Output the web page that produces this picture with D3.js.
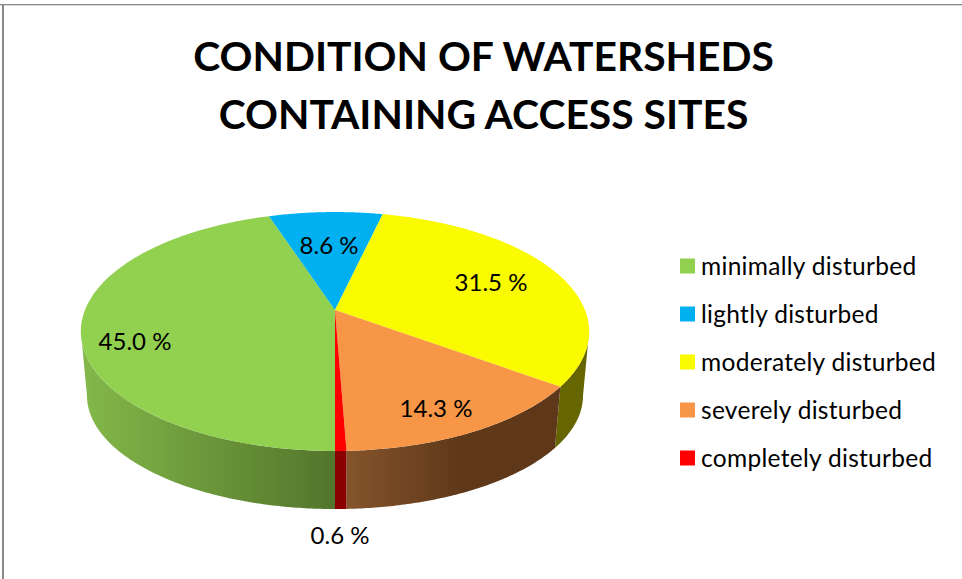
<!DOCTYPE html>
<html><head><meta charset="utf-8">
<script src="https://cdn.jsdelivr.net/npm/d3@7/dist/d3.min.js"></script>
<style>html,body{margin:0;padding:0;background:#fff}svg{display:block}text{font-family:Lato,"Open Sans",sans-serif;fill:#000}</style>
</head><body><div id="chart"></div>
<script>
const categories = ["minimally disturbed","lightly disturbed","moderately disturbed","severely disturbed","completely disturbed"];
const values = [45.0,8.6,31.5,14.3,0.6];
const colors = ["#92D050","#00B0F0","#FAFA00","#F79646","#FF0000"];
const wallLeft = ["#84B84A","#00709A","#666600","#85542B","#8B0000"];
const wallRight = ["#52752B","#00709A","#666600","#5E3819","#8B0000"];
const titleLines = ["CONDITION OF WATERSHEDS","CONTAINING ACCESS SITES"];

const W=962,H=579;
const svg=d3.select("#chart").append("svg").attr("width",W).attr("height",H);
svg.append("rect").attr("x",0).attr("y",4).attr("width",W).attr("height",1.3).attr("fill","#888");
svg.append("rect").attr("x",2).attr("y",4).attr("width",2).attr("height",H-4).attr("fill","#888");

svg.selectAll("text.title").data(titleLines).join("text").attr("class","title")
  .attr("x",483.5).attr("y",(d,i)=>71+i*58).attr("text-anchor","middle")
  .attr("font-size",40.8).attr("font-weight",700).text(d=>d);

// perspective projection of the disc
const k=0.18, cx=335, cy=310;
const topRim={R:250,S:115.6,dy:0}, botRim={R:244,S:110,dy:64.9};
const proj=(a,p)=>{const u=Math.sin(a),v=-Math.cos(a),d=1-k*v;return [cx+p.R*u/d, cy+p.dy+p.S*v/d];};
const visA=Math.PI-Math.acos(k), visB=Math.PI+Math.acos(k);
const pie=d3.pie().sort(null).startAngle(Math.PI).endAngle(3*Math.PI);
const arcs=pie(values);
const line=d3.line();
const sweep=(a,b)=>{const n=Math.max(2,Math.ceil((b-a)/0.01));return d3.range(n+1).map(i=>a+(b-a)*i/n);};
const defs=svg.append("defs");

const walls=[];
arcs.forEach((s,i)=>{
  [[s.startAngle,s.endAngle],[s.startAngle-2*Math.PI,s.endAngle-2*Math.PI]].forEach(([a0,b0])=>{
    const a=Math.max(a0,visA),b=Math.min(b0,visB);
    if(b>a) walls.push({i,a,b});
  });
});
walls.forEach((w,j)=>{
  const ts=sweep(w.a,w.b);
  const xs=ts.map(t=>proj(t,topRim)[0]).concat(ts.map(t=>proj(t,botRim)[0]));
  const [x0,x1]=d3.extent(xs);
  const g=defs.append("linearGradient").attr("id","w"+j).attr("gradientUnits","userSpaceOnUse")
    .attr("x1",x0).attr("x2",x1).attr("y1",0).attr("y2",0);
  g.append("stop").attr("offset",0).attr("stop-color",wallLeft[w.i]);
  g.append("stop").attr("offset",w.i===3?0.55:1).attr("stop-color",wallRight[w.i]);
  g.append("stop").attr("offset",1).attr("stop-color",wallRight[w.i]);
  svg.append("path").attr("d",line(ts.map(t=>proj(t,topRim)).concat(ts.slice().reverse().map(t=>proj(t,botRim))))+"Z")
    .attr("fill",`url(#w${j})`);
});
arcs.forEach((s,i)=>{
  const pts=[[cx,cy]].concat(sweep(s.startAngle,s.endAngle).map(t=>proj(t,topRim)));
  svg.append("path").attr("d",line(pts)+"Z").attr("fill",colors[i]);
});

const labelCenters=[[135,342],[329,246],[491,283],[436,409],[340,536]];
svg.selectAll("text.lab").data(values).join("text").attr("class","lab")
  .attr("x",(d,i)=>labelCenters[i][0]).attr("y",(d,i)=>labelCenters[i][1]+8)
  .attr("text-anchor","middle").attr("font-size",24).text(d=>d3.format(".1f")(d)+" %");

const ly=d3.scalePoint().domain(categories).range([266,458]);
const leg=svg.selectAll("g.leg").data(categories).join("g").attr("class","leg")
  .attr("transform",d=>`translate(680,${ly(d)})`);
leg.append("rect").attr("x",0).attr("y",-7.5).attr("width",15).attr("height",15).attr("fill",(d,i)=>colors[i]);
leg.append("text").attr("x",21).attr("y",9).attr("font-size",24.5).attr("letter-spacing",0.3).text(d=>d);
</script></body></html>
